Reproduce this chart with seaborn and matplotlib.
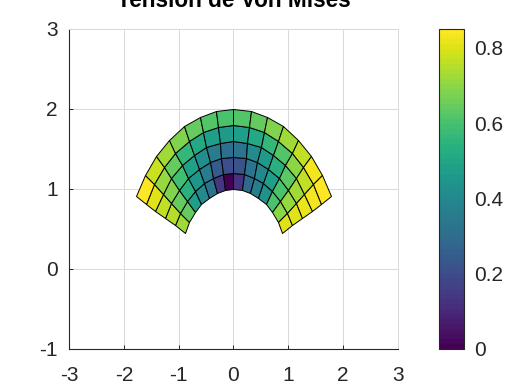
import numpy as np
import matplotlib.pyplot as plt
import seaborn as sns

# radii and angles (degrees from vertical) of the mesh
radii = [1.0, 1.2, 1.4, 1.6, 1.8, 2.0]
angles = [-63, -54, -45, -36, -27, -18, -9, 0, 9, 18, 27, 36, 45, 54, 63]

# von Mises per cell, rows go from inner arc to outer arc, columns left to right
row_1 = [0.73, 0.64, 0.47, 0.40, 0.32, 0.14, 0.00, 0.12, 0.28, 0.36, 0.43, 0.60, 0.70, 0.80]
row_2 = [0.75, 0.65, 0.54, 0.44, 0.35, 0.25, 0.20, 0.22, 0.32, 0.39, 0.47, 0.60, 0.71, 0.81]
row_3 = [0.77, 0.68, 0.59, 0.49, 0.42, 0.35, 0.31, 0.33, 0.40, 0.46, 0.54, 0.63, 0.73, 0.82]
row_4 = [0.80, 0.71, 0.64, 0.56, 0.51, 0.47, 0.46, 0.47, 0.51, 0.56, 0.62, 0.70, 0.77, 0.83]
row_5 = [0.84, 0.78, 0.73, 0.68, 0.65, 0.62, 0.61, 0.62, 0.65, 0.68, 0.72, 0.77, 0.83, 0.85]

x_ticks = [-3, -2, -1, 0, 1, 2, 3]
y_ticks = [-1, 0, 1, 2, 3]
cbar_ticks = [0, 0.2, 0.4, 0.6, 0.8]
title = "Tension de Von Mises"

sns.set_theme(style="whitegrid")
plt.rcParams["font.family"] = ["Liberation Sans", "DejaVu Sans"]

values = np.array([row_1, row_2, row_3, row_4, row_5])
theta = np.radians(angles)
R, T = np.meshgrid(radii, theta, indexing="ij")
X = R * np.sin(T)
Y = R * np.cos(T)

cmap = sns.color_palette("viridis", as_cmap=True).resampled(64)

fig = plt.figure(figsize=(5.3, 3.92), dpi=100)
ax = fig.add_axes([69 / 530, 1 - 349 / 392, 329 / 530, 320 / 392])
cax = fig.add_axes([439 / 530, 1 - 349 / 392, 25 / 530, 320 / 392])

mesh = ax.pcolormesh(
    X, Y, values, cmap=cmap, vmin=0, vmax=0.85,
    edgecolors="black", linewidth=0.7, antialiased=True, zorder=3,
)

ax.set_xlim(-3, 3)
ax.set_ylim(-1, 3)
ax.set_xticks(x_ticks)
ax.set_xticklabels([str(t) for t in x_ticks])
ax.set_yticks(y_ticks)
ax.set_yticklabels([str(t) for t in y_ticks])
ax.grid(True, color="#d9d9d9", linewidth=0.7)
ax.set_axisbelow(True)
ax.tick_params(labelsize=15, colors="#262626", direction="in", length=3, width=0.7, left=True, bottom=True)
ax.tick_params(axis="x", pad=12)
ax.tick_params(axis="y", pad=8)
ax.set_title(title, fontsize=16.3, fontweight="bold", color="black", pad=16)

sns.despine(ax=ax, top=False, right=False)
for side in ["left", "bottom"]:
    ax.spines[side].set_color("#262626")
    ax.spines[side].set_linewidth(0.8)
for side in ["top", "right"]:
    ax.spines[side].set_color("#d9d9d9")
    ax.spines[side].set_linewidth(0.7)

cbar = fig.colorbar(mesh, cax=cax)
cbar.set_ticks(cbar_ticks)
cbar.set_ticklabels(["0", "0.2", "0.4", "0.6", "0.8"])
cbar.ax.tick_params(labelsize=15, colors="#262626", direction="in", length=3, width=0.7, right=True, left=True, pad=7)
cbar.ax.grid(False)
cbar.outline.set_edgecolor("#262626")
cbar.outline.set_linewidth(0.8)

fig.savefig("out.png", dpi=100)
plt.close(fig)
